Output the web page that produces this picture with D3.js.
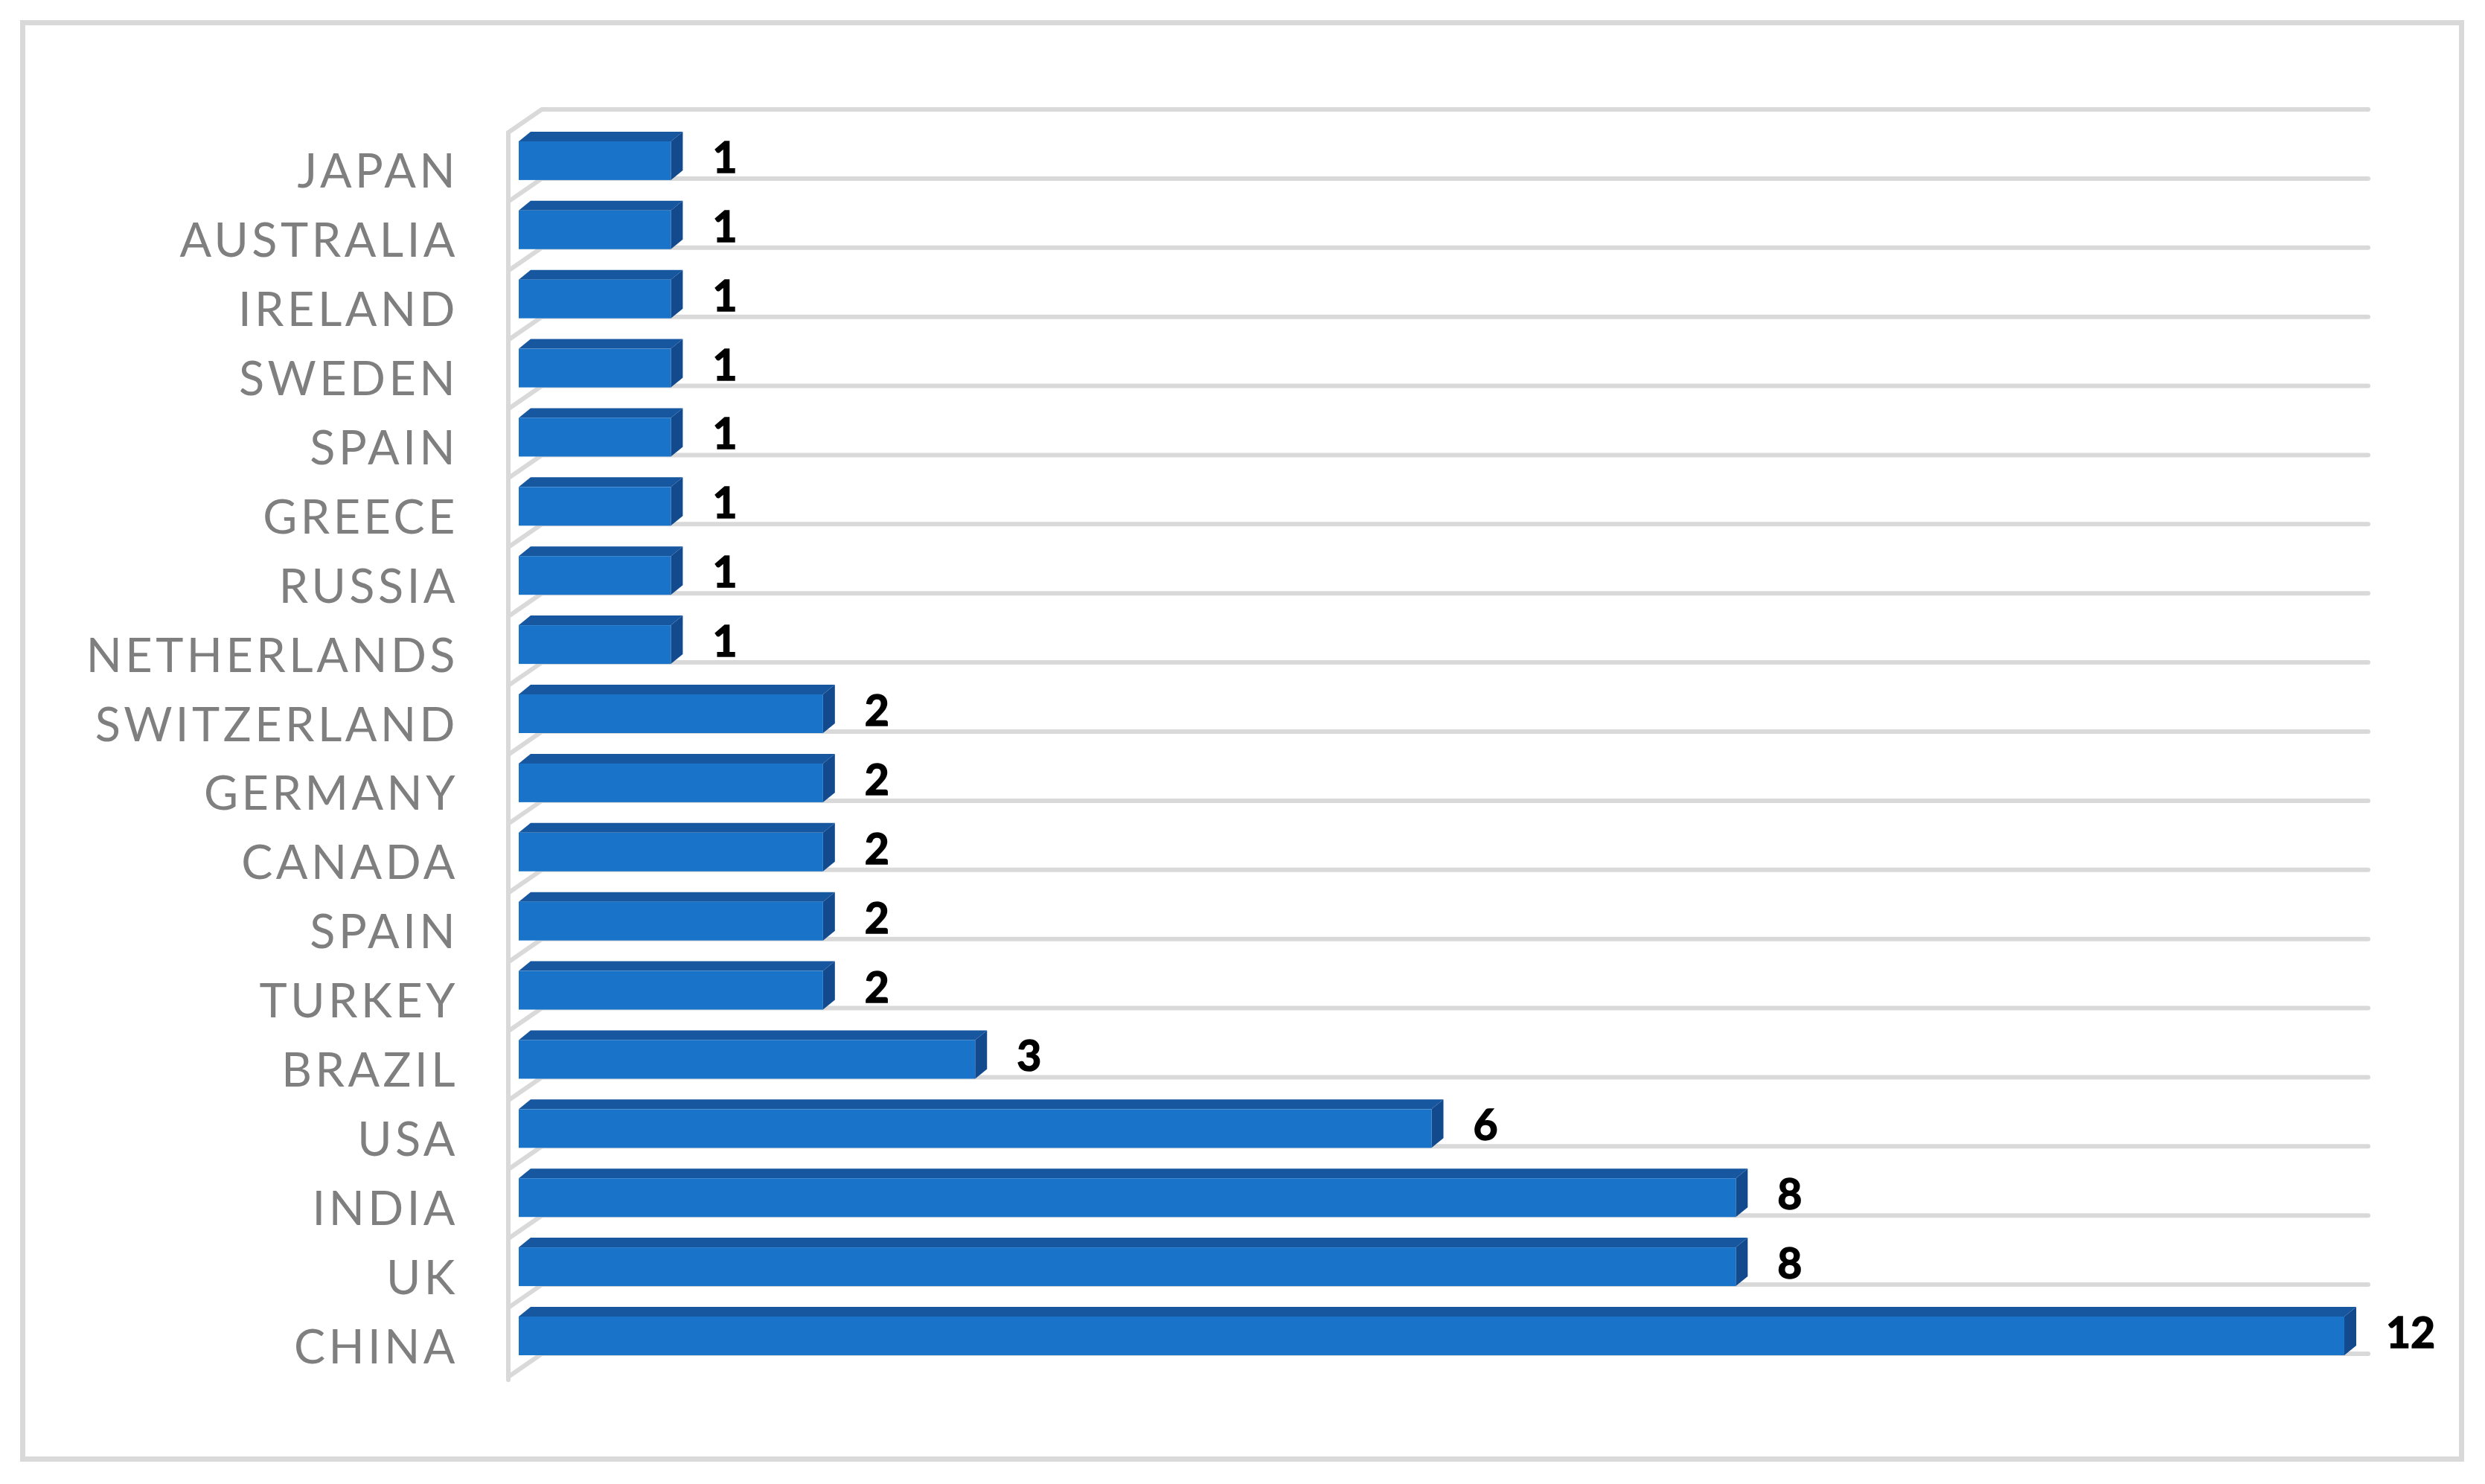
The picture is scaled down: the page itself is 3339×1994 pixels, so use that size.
<!DOCTYPE html>
<html>
<head>
<meta charset="utf-8">
<script src="https://cdn.jsdelivr.net/npm/d3@7"></script>
<style>
  body { margin: 0; background: #fff; }
</style>
</head>
<body>
<div id="chart"></div>
<script>
const countries = ["JAPAN", "AUSTRALIA", "IRELAND", "SWEDEN", "SPAIN", "GREECE", "RUSSIA", "NETHERLANDS",
  "SWITZERLAND", "GERMANY", "CANADA", "SPAIN", "TURKEY", "BRAZIL", "USA", "INDIA", "UK", "CHINA"];
const counts = [1, 1, 1, 1, 1, 1, 1, 1, 2, 2, 2, 2, 2, 3, 6, 8, 8, 12];
const maxValue = 12;

const width = 3339, height = 1994;
const gridColor = '#d9d9d9';
const frontColor = '#1873c9';
const topColor = '#16579f';
const sideColor = '#134a8e';

// 3d offsets (wall depth and bar depth)
const wallDx = 45, wallDy = 31;
const barDx = 16, barDy = 13;
const barHeight = 52;

const svg = d3.select('#chart').append('svg')
  .attr('width', width).attr('height', height);

svg.append('rect')
  .attr('x', 30.5).attr('y', 30.5)
  .attr('width', 3277).attr('height', 1930)
  .attr('fill', '#fff').attr('stroke', gridColor).attr('stroke-width', 7);

const idx = d3.range(countries.length);
const y = d3.scaleBand().domain(idx).range([147, 1819]).padding(0);
const x = d3.scaleLinear().domain([0, maxValue]).range([697, 3150]);

// back wall + side wall lines
const wallX = 683;
const gridYs = idx.map(i => y(i)).concat([y.range()[1]]);
const walls = svg.append('g').attr('fill', 'none').attr('stroke', gridColor)
  .attr('stroke-width', 6).attr('stroke-linecap', 'round').attr('stroke-linejoin', 'round');

walls.selectAll('path.grid').data(gridYs).join('path')
  .attr('class', 'grid')
  .attr('d', gy => `M${wallX},${gy + wallDy} L${wallX + wallDx},${gy} L3182,${gy}`);

walls.append('line')
  .attr('x1', wallX).attr('x2', wallX)
  .attr('y1', gridYs[0] + wallDy).attr('y2', gridYs[gridYs.length - 1] + wallDy + 4);

// bars
const bars = svg.append('g').selectAll('g').data(idx).join('g');

function frontBottom(i) { return y(i) + y.step() + 2; }

bars.append('path')
  .attr('fill', topColor)
  .attr('d', i => {
    const b = frontBottom(i), t = b - barHeight, x0 = x(0), x1 = x(counts[i]);
    return `M${x0},${t} L${x0 + barDx},${t - barDy} L${x1 + barDx},${t - barDy} L${x1},${t} Z`;
  });

bars.append('path')
  .attr('fill', sideColor)
  .attr('d', i => {
    const b = frontBottom(i), t = b - barHeight, x1 = x(counts[i]);
    return `M${x1},${t} L${x1 + barDx},${t - barDy} L${x1 + barDx},${b - barDy} L${x1},${b} Z`;
  });

bars.append('rect')
  .attr('fill', frontColor)
  .attr('x', x(0))
  .attr('y', i => frontBottom(i) - barHeight)
  .attr('width', i => x(counts[i]) - x(0))
  .attr('height', barHeight);

// value labels
bars.append('text')
  .attr('x', i => x(counts[i]) + barDx + 40)
  .attr('y', i => frontBottom(i) - barHeight + 42)
  .attr('font-family', 'Lato, "Open Sans", sans-serif')
  .attr('font-weight', 'bold')
  .attr('font-size', 57)
  .attr('fill', '#000')
  .attr('stroke', '#000')
  .attr('stroke-width', 1.5)
  .text(i => counts[i]);

// category labels
svg.append('g').selectAll('text').data(idx).join('text')
  .attr('x', 616)
  .attr('y', i => y(i) + y.step() / 2 + 59)
  .attr('text-anchor', 'end')
  .attr('font-family', 'Lato, "Open Sans", sans-serif')
  .attr('font-size', 63)
  .attr('letter-spacing', 4.5)
  .attr('fill', '#7f7f7f')
  .text(i => countries[i]);
</script>
</body>
</html>
